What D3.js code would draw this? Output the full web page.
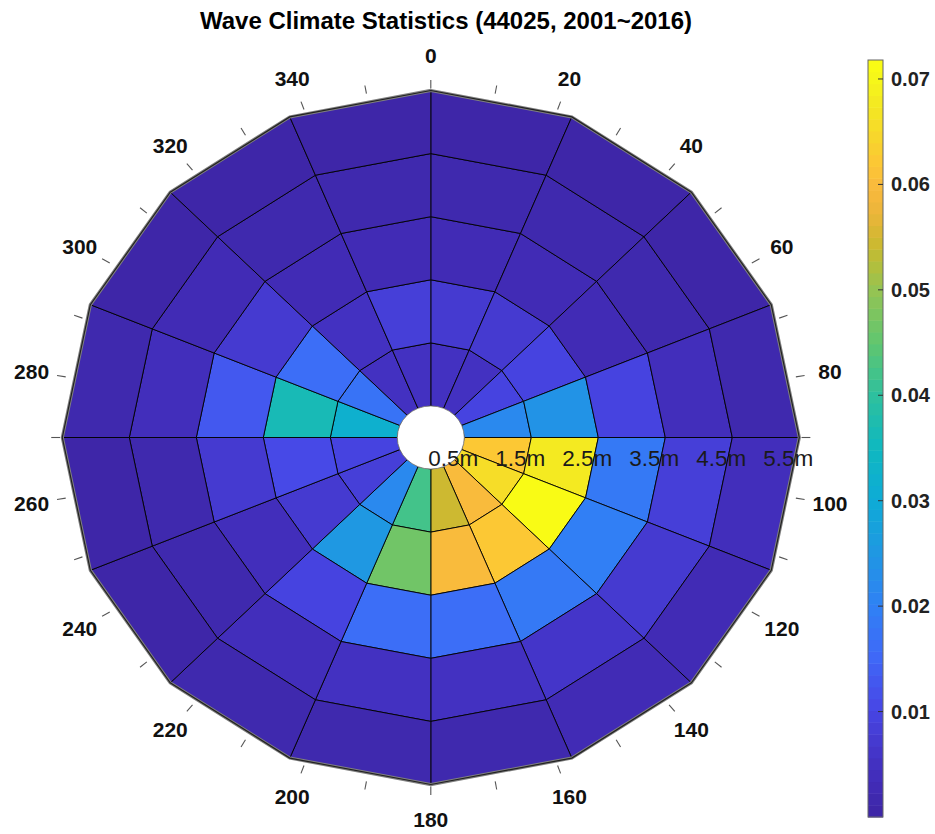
<!DOCTYPE html>
<html><head><meta charset="utf-8">
<script src="https://cdn.jsdelivr.net/npm/d3@7"></script>
<style>body{margin:0;background:#fff;} svg{display:block;font-family:"Liberation Sans",Arial,Helvetica,sans-serif;}</style>
</head><body><svg id="chart" width="935" height="834"></svg>
<script>
// ---- data ----
const directions = [0,22.5,45,67.5,90,112.5,135,157.5,180,202.5,225,247.5,270,292.5,315,337.5];
const radialEdges = [0.5,1.5,2.5,3.5,4.5,5.5];
// probability per sector (clockwise from north) for each wave-height bin
const ring05_15 = [0.005,0.005,0.009,0.022,0.0625,0.066,0.0597,0.0546,0.042,0.022,0.008,0.010,0.032,0.017,0.005,0.005];
const ring15_25 = [0.007,0.007,0.010,0.024,0.0675,0.0718,0.0625,0.060,0.046,0.025,0.007,0.011,0.036,0.016,0.005,0.008];
const ring25_35 = [0.003,0.003,0.003,0.009,0.019,0.020,0.019,0.016,0.016,0.009,0.004,0.007,0.013,0.007,0.003,0.003];
const ring35_45 = [0.002,0.002,0.002,0.004,0.008,0.007,0.006,0.005,0.005,0.004,0.002,0.002,0.004,0.003,0.002,0.002];
const ring45_55 = [0.001,0.001,0.001,0.002,0.004,0.003,0.003,0.002,0.002,0.002,0.001,0.001,0.002,0.001,0.001,0.001];
const rings = [ring05_15, ring15_25, ring25_35, ring35_45, ring45_55];
const angleLabels = [0,20,40,60,80,100,120,140,160,180,200,220,240,260,280,300,320,340];
const angleTicks = [0,10,20,30,40,50,60,70,80,90,100,110,120,130,140,150,160,170,180,190,200,210,220,230,240,250,260,270,280,290,300,310,320,330,340,350];
const radialLabels = ["0.5m","1.5m","2.5m","3.5m","4.5m","5.5m"];
const colorbarTicks = [0.01,0.02,0.03,0.04,0.05,0.06,0.07];
const cmin = 0, cmax = 0.0718;
const titleText = "Wave Climate Statistics (44025, 2001~2016)";

// parula-like colormap stops
const cmapPos = [0,0.07,0.139,0.209,0.279,0.348,0.418,0.487,0.557,0.627,0.696,0.74,0.765,0.80,0.836,0.87,0.905,0.94,0.975,1];
const cmapCol = ["#3e26a8","#4432c4","#4747e6","#3f69f8","#2f82f4","#1f98e2","#0eabd6","#0fb8c0","#2ec09e","#5fc670","#92c455","#b8bd38","#d0b830","#eab53a","#f9b93d","#fcc735","#f7d62c","#f4e523","#f5f41c","#f9fb15"];

// ---- layout ----
const svg = d3.select("#chart");
const cx = 430.8, cy = 437.5;
const rX = d3.scaleLinear().domain([0,5.5]).range([0,368.5]);
const rY = d3.scaleLinear().domain([0,5.5]).range([0,347]);
const ang = d3.scaleLinear().domain([0,360]).range([0,2*Math.PI]);
const pt = (deg,r) => [cx + rX(r)*Math.sin(ang(deg)), cy - rY(r)*Math.cos(ang(deg))];

const cont = d3.scaleLinear().domain(cmapPos).range(cmapCol).interpolate(d3.interpolateRgb).clamp(true);
const nLevels = 64;
const colorOf = v => {
  const t = (v-cmin)/(cmax-cmin);
  const q = Math.max(0, Math.min(nLevels-1, Math.floor(t*nLevels)));
  return cont(q/(nLevels-1));
};

// title
svg.append("text").attr("x",446).attr("y",29).attr("text-anchor","middle")
  .attr("font-size",24).attr("font-weight","bold").attr("fill","#000").text(titleText);

// cells
const line = d3.line().curve(d3.curveLinearClosed);
const step = 22.5;
const cells = [];
rings.forEach((vals,j) => vals.forEach((v,i) => cells.push({a0:directions[i], a1:directions[i]+step, r0:radialEdges[j], r1:radialEdges[j+1], v})));
svg.append("g").selectAll("path").data(cells).join("path")
  .attr("d", d => line([pt(d.a0,d.r0), pt(d.a1,d.r0), pt(d.a1,d.r1), pt(d.a0,d.r1)]))
  .attr("fill", d => colorOf(d.v))
  .attr("stroke","#000").attr("stroke-opacity",0.9).attr("stroke-width",1).attr("stroke-linejoin","round");

// outer border
const outer = directions.map(a => pt(a,5.5));
svg.append("path").attr("d", line(outer)).attr("fill","none").attr("stroke","#808080").attr("stroke-width",3.2).attr("stroke-linejoin","miter");
svg.append("path").attr("d", line(outer)).attr("fill","none").attr("stroke","#222").attr("stroke-width",1.2).attr("stroke-linejoin","miter");

// hole
svg.append("ellipse").attr("cx",cx).attr("cy",cy).attr("rx",rX(0.5)).attr("ry",rY(0.5))
  .attr("fill","#fff").attr("stroke","#777").attr("stroke-width",0.8);

// angle ticks
svg.append("g").selectAll("line").data(angleTicks).join("line")
  .attr("x1", d => pt(d,5.5*1.006)[0]).attr("y1", d => pt(d,5.5*1.006)[1])
  .attr("x2", d => pt(d,5.5*1.03)[0]).attr("y2", d => pt(d,5.5*1.03)[1])
  .attr("stroke","#555").attr("stroke-width",1.1);

// angle labels
svg.append("g").selectAll("text").data(angleLabels).join("text")
  .attr("x", d => pt(d,5.5*1.1)[0]).attr("y", d => pt(d,5.5*1.1)[1])
  .attr("text-anchor","middle").attr("dominant-baseline","central")
  .attr("font-size",21).attr("font-weight","bold").attr("fill","#111").text(d => d);

// radial labels
svg.append("g").selectAll("text").data(radialLabels).join("text")
  .attr("x", (d,i) => cx + rX(radialEdges[i]) - 11).attr("y", cy + 28)
  .attr("text-anchor","middle")
  .attr("font-size",22.5).attr("fill","#1a1a1a").text(d => d);

// colorbar
const cbX = 868, cbW = 15;
const cbY = d3.scaleLinear().domain([cmin,cmax]).range([817,60]);
const bands = d3.range(nLevels);
svg.append("g").selectAll("rect").data(bands).join("rect")
  .attr("x",cbX).attr("width",cbW)
  .attr("y", k => cbY(cmin + (k+1)*(cmax-cmin)/nLevels))
  .attr("height", k => cbY(cmin + k*(cmax-cmin)/nLevels) - cbY(cmin + (k+1)*(cmax-cmin)/nLevels) + 0.5)
  .attr("fill", k => cont(k/(nLevels-1)));
svg.append("rect").attr("x",cbX).attr("y",60).attr("width",cbW).attr("height",757)
  .attr("fill","none").attr("stroke","#666").attr("stroke-width",1);
const cbAxis = svg.append("g");
cbAxis.selectAll("line").data(colorbarTicks).join("line")
  .attr("x1",cbX+cbW-5).attr("x2",cbX+cbW).attr("y1",d=>cbY(d)).attr("y2",d=>cbY(d))
  .attr("stroke","#333").attr("stroke-width",1);
cbAxis.selectAll("text").data(colorbarTicks).join("text")
  .attr("x",891).attr("y",d=>cbY(d)).attr("dominant-baseline","central")
  .attr("font-size",20).attr("font-weight","bold").attr("fill","#222")
  .text(d => d3.format(".2f")(d));
</script></body></html>
